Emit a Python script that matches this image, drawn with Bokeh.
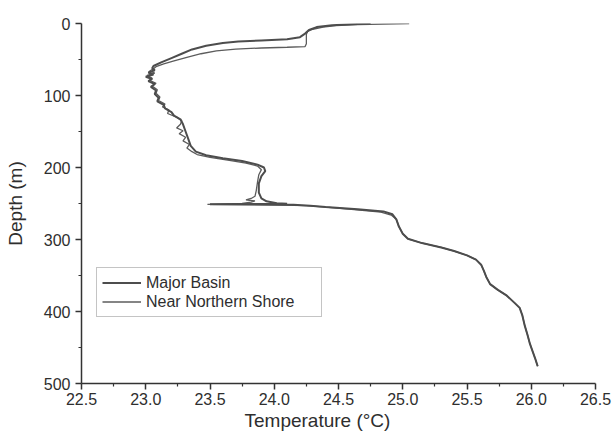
from bokeh.plotting import figure
from bokeh.models import Range1d, FixedTicker, NumeralTickFormatter, Legend, LegendItem, Title
from bokeh.embed import file_html
from bokeh.resources import INLINE

# Major Basin profile (temperature in degC, depth in m)
basin_depth = [0, 1, 2.5, 5, 9, 14, 19, 22, 23.5, 25, 27, 31, 36, 42, 48, 54, 59, 62, 65, 68,
               71, 74, 77, 80, 84, 88, 93, 98, 103, 108, 113, 118, 123, 128, 133, 140, 150, 160,
               170, 178, 183, 187, 191, 196, 200, 205, 212, 222, 235, 243, 247, 249.5, 250.5,
               251, 251.6, 253, 255, 258, 261, 265, 272, 282, 292, 299, 305, 311, 316, 322, 328,
               335, 343, 352, 362, 370, 378, 388, 395, 405, 420, 432, 445, 455, 465, 476]
basin_temp = [24.75, 24.6, 24.45, 24.33, 24.27, 24.24, 24.2, 24.1, 23.9, 23.72, 23.6, 23.47,
              23.36, 23.28, 23.2, 23.12, 23.06, 23.05, 23.07, 23.02, 23.06, 23.0, 23.05, 23.02,
              23.07, 23.04, 23.08, 23.07, 23.1, 23.09, 23.14, 23.15, 23.2, 23.22, 23.27, 23.29,
              23.31, 23.33, 23.35, 23.39, 23.47, 23.6, 23.75, 23.87, 23.92, 23.93, 23.9, 23.88,
              23.88, 23.9, 23.94, 24.02, 24.1, 23.5, 24.15, 24.28, 24.4, 24.65, 24.85, 24.92,
              24.95, 24.97, 25.0, 25.04, 25.15, 25.3, 25.4, 25.5, 25.57, 25.61, 25.63, 25.65,
              25.68, 25.74, 25.81, 25.87, 25.91, 25.93, 25.95, 25.97, 25.99, 26.01, 26.03, 26.05]

# Near Northern Shore profile
shore_depth = [0, 0.7, 1.5, 3, 5, 8, 11, 15, 22, 28, 32, 33, 34, 35.5, 38, 42, 47, 52, 56, 60,
               63, 66, 69, 72, 76, 79, 83, 87, 92, 97, 102, 107, 112, 116, 120, 125, 130, 135,
               140, 145, 149, 153, 158, 163, 168, 173, 178, 182, 186, 190, 194, 198, 203, 210,
               220, 232, 240, 243, 245, 246.5, 248, 250, 251.2, 251.8, 253, 255, 258, 262,
               266, 272, 282, 292, 299, 305, 311, 316, 322, 328, 335, 343, 352, 362, 370, 378,
               388, 395, 405, 420, 432, 445, 455, 465, 476]
shore_temp = [25.05, 24.85, 24.65, 24.48, 24.38, 24.3, 24.26, 24.25, 24.25, 24.25, 24.24, 24.1,
              23.9, 23.7, 23.55, 23.43, 23.32, 23.22, 23.14, 23.08, 23.06, 23.03, 23.07, 23.01,
              23.05, 23.03, 23.08, 23.05, 23.09, 23.08, 23.11, 23.1, 23.15, 23.13, 23.18, 23.17,
              23.24, 23.28, 23.27, 23.24, 23.29, 23.26, 23.31, 23.29, 23.34, 23.32, 23.36, 23.4,
              23.5, 23.65, 23.78, 23.87, 23.9, 23.88, 23.87, 23.86, 23.85, 23.82, 23.78, 23.85,
              23.82, 23.75, 23.48, 23.95, 24.25, 24.4, 24.6, 24.83, 24.91, 24.95, 24.97, 25.0,
              25.04, 25.15, 25.3, 25.4, 25.5, 25.57, 25.61, 25.63, 25.65, 25.68, 25.74, 25.81,
              25.87, 25.91, 25.93, 25.95, 25.97, 25.99, 26.01, 26.03, 26.05]

x_ticks = [22.5, 23.0, 23.5, 24.0, 24.5, 25.0, 25.5, 26.0, 26.5]
x_minor = [22.75, 23.25, 23.75, 24.25, 24.75, 25.25, 25.75, 26.25]
y_ticks = [0, 100, 200, 300, 400, 500]
y_minor = [50, 150, 250, 350, 450]

series_names = ["Major Basin", "Near Northern Shore"]
x_title = "Temperature (°C)"
y_title = "Depth (m)"

FONT = "Liberation Sans"
TXT = "#2e2e2e"

p = figure(width=614, height=434, output_backend="svg", toolbar_location=None,
           x_range=Range1d(22.5, 26.5), y_range=Range1d(500, 0),
           min_border_left=81, min_border_right=19, min_border_top=23, min_border_bottom=51,
           y_axis_label=y_title)

p.grid.visible = False
p.outline_line_color = None
p.background_fill_color = "white"
p.border_fill_color = "white"

p.xaxis.ticker = FixedTicker(ticks=x_ticks, minor_ticks=x_minor)
p.yaxis.ticker = FixedTicker(ticks=y_ticks, minor_ticks=y_minor)
p.xaxis.formatter = NumeralTickFormatter(format="0.0")

for ax in (p.xaxis[0], p.yaxis[0]):
    ax.axis_line_color = "#333333"
    ax.axis_line_width = 1.5
    ax.major_tick_line_color = "#333333"
    ax.major_tick_line_width = 1.5
    ax.minor_tick_line_color = "#333333"
    ax.minor_tick_line_width = 1.2
    ax.major_tick_out = 6
    ax.major_tick_in = 0
    ax.minor_tick_out = 3
    ax.minor_tick_in = 0
    ax.major_label_text_font = FONT
    ax.major_label_text_font_size = "16px"
    ax.major_label_text_color = TXT
    ax.axis_label_text_font = FONT
    ax.axis_label_text_font_size = "19px"
    ax.axis_label_text_font_style = "normal"
    ax.axis_label_text_color = TXT

p.xaxis.major_label_standoff = 3
p.yaxis.major_label_standoff = 5
p.yaxis.axis_label_standoff = 15

# x-axis title, set slightly left of centre as in the original figure
xt = Title(text=x_title, align="left", offset=163, standoff=0,
           text_font=FONT, text_font_size="19px", text_font_style="normal",
           text_color=TXT)
p.add_layout(xt, "below")

r_shore = p.line(shore_temp, shore_depth, line_width=1.3, line_color="#5c5c5c")
r_basin = p.line(basin_temp, basin_depth, line_width=2.0, line_color="#4d4d4d")

legend = Legend(items=[LegendItem(label=series_names[0], renderers=[r_basin]),
                       LegendItem(label=series_names[1], renderers=[r_shore])],
                location=(15, 66))
legend.border_line_color = "#8a8a8a"
legend.border_line_width = 1
legend.background_fill_color = "white"
legend.background_fill_alpha = 1
legend.label_text_font = FONT
legend.label_text_font_size = "16px"
legend.label_text_color = TXT
legend.glyph_width = 39
legend.glyph_height = 19
legend.label_height = 19
legend.label_width = 170
legend.label_standoff = 5
legend.padding = 5
legend.spacing = 0
legend.margin = 0
p.add_layout(legend)

open("out.html", "w").write(file_html(p, INLINE))
